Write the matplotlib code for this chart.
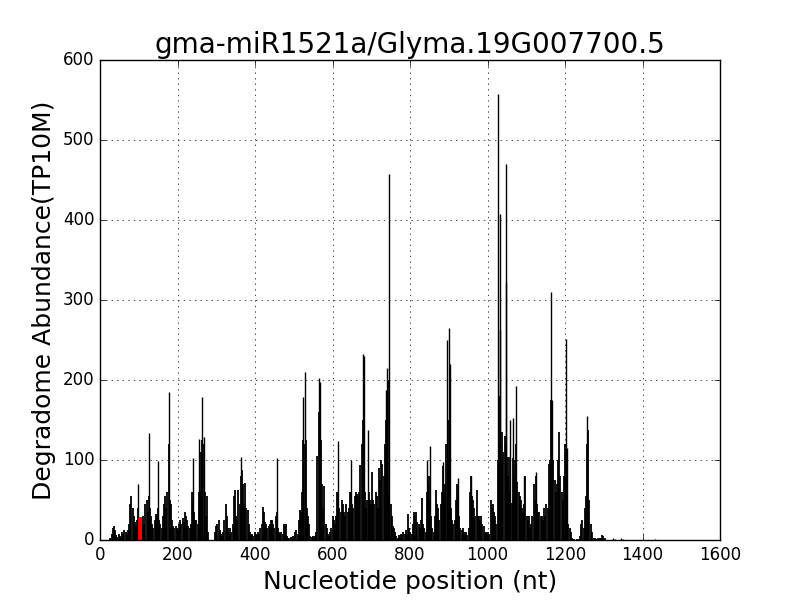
import matplotlib
matplotlib.use('Agg')
import numpy as np
import matplotlib.pyplot as plt

# background degradome signal, one value every 3 nt starting at nt 24
bg_start = 24
bg_step = 3
bg_values = [
    0, 3, 8, 15, 17, 12, 6, 4, 8, 5,            # 24-51
    3, 10, 8, 12, 10, 6, 12, 20, 45, 55,        # 54-81
    40, 30, 22, 18, 25, 40, 5, 5, 15, 30,       # 84-111
    20, 45, 50, 35, 55, 40, 30, 20, 15, 25,     # 114-141
    33, 30, 40, 25, 20, 15, 30, 45, 55, 40,     # 144-171
    60, 120, 50, 45, 25, 18, 15, 18, 15, 12,    # 174-201
    20, 25, 20, 28, 22, 35, 30, 25, 18, 15,     # 204-231
    20, 60, 50, 35, 25, 25, 20, 60, 60, 110,    # 234-261
    125, 120, 60, 30, 55, 10, 0, 0, 0, 0,       # 264-291
    0, 10, 18, 20, 25, 12, 8, 5, 10, 25,        # 294-321
    45, 30, 15, 10, 15, 10, 20, 55, 63, 30,     # 324-351
    25, 63, 45, 80, 88, 70, 45, 71, 40, 38,     # 354-381
    20, 10, 6, 8, 5, 10, 8, 6, 10, 8,           # 384-411
    15, 20, 41, 35, 22, 20, 15, 18, 20, 25,     # 414-441
    25, 20, 15, 30, 35, 15, 10, 8, 10, 8,       # 444-471
    20, 18, 20, 5, 3, 2, 4, 2, 5, 4,            # 474-501
    10, 12, 8, 25, 38, 35, 60, 125, 120, 125,   # 504-531
    40, 30, 20, 5, 4, 5, 3, 5, 10, 105,         # 534-561
    160, 130, 125, 70, 40, 68, 20, 15, 8, 5,    # 564-591
    10, 15, 30, 25, 20, 30, 60, 60, 40, 35,     # 594-621
    50, 45, 35, 30, 45, 35, 40, 60, 60, 45,     # 624-651
    40, 55, 60, 58, 55, 60, 94, 120, 150, 60,   # 654-681
    60, 40, 50, 60, 50, 45, 85, 50, 45, 60,     # 684-711
    55, 40, 90, 75, 100, 95, 80, 120, 150, 130, # 714-741
    200, 60, 45, 30, 18, 15, 10, 5, 3, 6,       # 744-771
    4, 8, 6, 10, 8, 12, 6, 32, 15, 10,          # 774-801
    8, 20, 35, 30, 35, 22, 20, 15, 25, 53,      # 804-831
    20, 15, 10, 60, 70, 80, 50, 30, 15, 10,     # 834-861
    30, 62, 45, 40, 25, 45, 60, 92, 60, 70,     # 864-891
    120, 150, 100, 130, 40, 25, 20, 25, 50, 70, # 894-921
    60, 30, 15, 12, 15, 10, 8, 10, 6, 15,       # 924-951
    60, 80, 55, 50, 40, 30, 63, 30, 30, 25,     # 954-981
    30, 20, 18, 10, 10, 8, 10, 8, 50, 40,       # 984-1011
    45, 35, 30, 20, 100, 180, 120, 100, 135, 110, # 1014-1041
    130, 120, 104, 80, 104, 60, 46, 103, 80, 100, # 1044-1071
    120, 73, 60, 55, 50, 40, 35, 45, 80, 30,    # 1074-1101
    25, 30, 15, 20, 30, 70, 50, 80, 45, 35,     # 1104-1131
    35, 30, 30, 25, 40, 30, 45, 40, 95, 100,    # 1134-1161
    175, 140, 100, 75, 60, 70, 100, 135, 80, 60, # 1164-1191
    50, 80, 120, 113, 40, 20, 15, 10, 2, 0,     # 1194-1221
    1, 0, 1, 0, 1, 5, 20, 25, 15, 40,           # 1224-1251
    55, 120, 138, 50, 20, 10, 3, 2, 2, 1,       # 1254-1281
    2, 1, 2, 3, 6, 5, 2,                        # 1284-1302
]

# isolated tall spikes (position nt, abundance)
spike_pos = [98, 127, 150, 177, 239, 256, 262, 268, 363, 456,
             523, 529, 565, 567, 613, 647, 678, 680, 692, 737,
             740, 746, 844, 852, 885, 895, 901, 903, 924, 957,
             1028, 1031, 1033, 1047, 1049, 1058, 1067, 1073, 1094, 1125,
             1165, 1167, 1202, 1204, 1257]
spike_val = [70, 134, 99, 185, 103, 126, 179, 129, 104, 103,
             179, 210, 202, 198, 124, 100, 233, 230, 138, 188,
             215, 457, 100, 117, 97, 250, 265, 220, 77, 80,
             557, 262, 408, 470, 323, 150, 152, 192, 80, 85,
             310, 175, 251, 115, 155]

# sparse tail after 1300 nt
tail_pos = [1323, 1328, 1345, 1350, 1432]
tail_val = [2, 1, 2, 1, 1]

# miRNA cleavage site region (red)
site_pos = [101, 103, 105, 107]
site_val = [27, 29, 29, 28]

plt.style.use('classic')
fig = plt.figure(figsize=(8, 6), dpi=100)
ax = fig.add_subplot(111)

bg_pos = bg_start + bg_step * np.arange(len(bg_values))
ax.vlines(bg_pos, 0, bg_values, color='k', linewidth=1.3)
ax.vlines(spike_pos, 0, spike_val, color='k', linewidth=1)
ax.vlines(tail_pos, 0, tail_val, color='k', linewidth=1)
ax.vlines(site_pos, 0, site_val, color='r', linewidth=1.2)

ax.set_xlim(0, 1600)
ax.set_ylim(0, 600)
ax.set_xticks(range(0, 1601, 200))
ax.set_yticks(range(0, 601, 100))
ax.tick_params(labelsize=12)
ax.grid(True, linestyle=':', color='k', linewidth=0.5)

ax.set_title('gma-miR1521a/Glyma.19G007700.5', fontsize=20)
ax.set_xlabel('Nucleotide position (nt)', fontsize=18)
ax.set_ylabel('Degradome Abundance(TP10M)', fontsize=18)

fig.savefig('out.png', dpi=100, facecolor='w')
